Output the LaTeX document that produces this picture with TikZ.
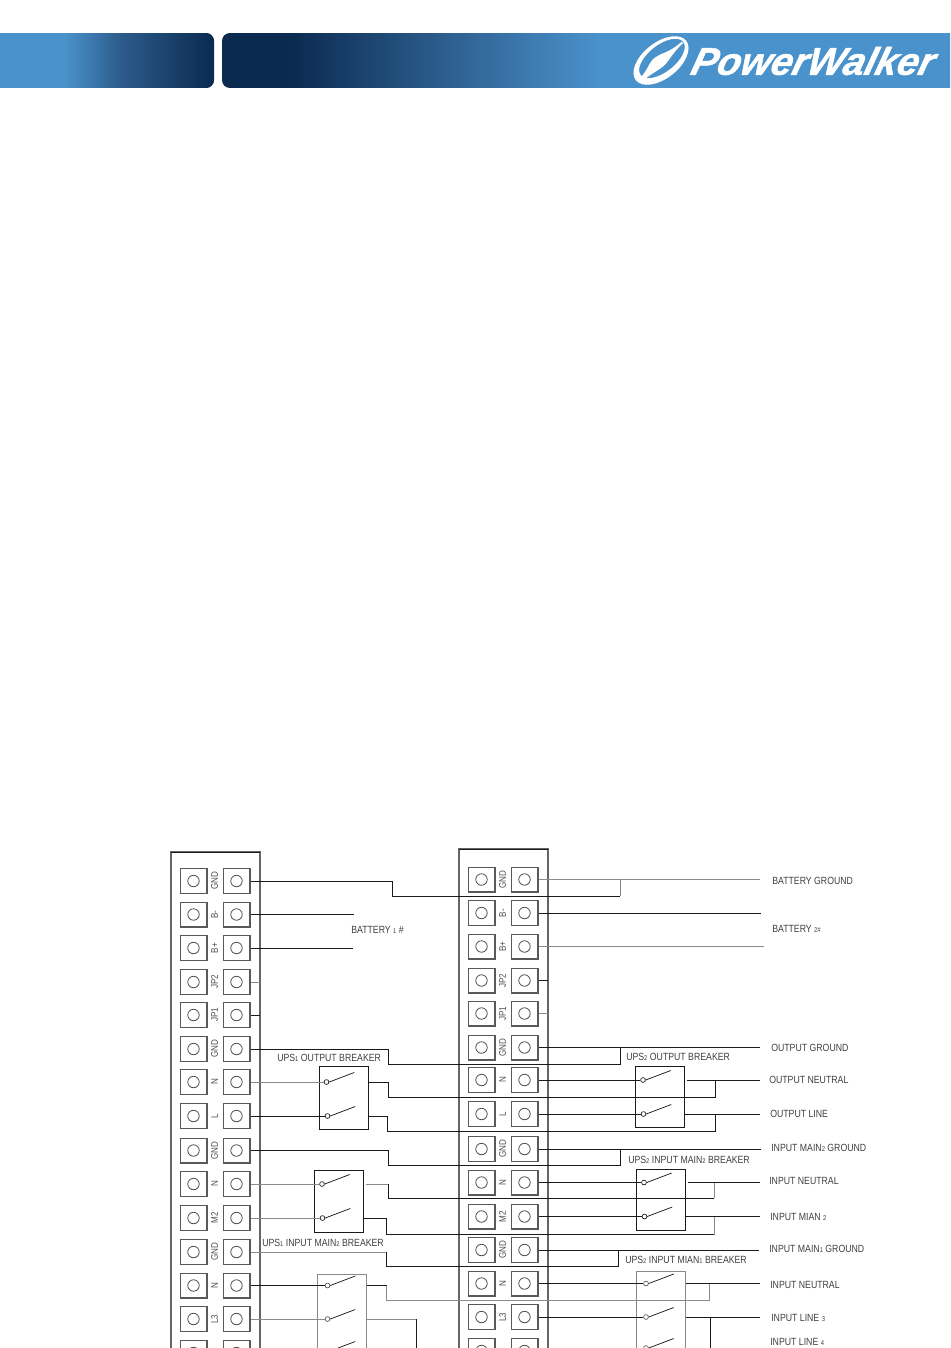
\documentclass[tikz,border=0pt]{standalone}
\usepackage{fontspec}
\setmainfont[FakeStretch=0.84]{Liberation Sans}
\newfontfamily\logofont[FakeBold=1.2,FakeSlant=0.26]{Liberation Sans}
\usetikzlibrary{calc}
\newcommand\sdg[1]{{\fontsize{5.2}{5}\selectfont #1}}
\definecolor{bandblue}{HTML}{4A92CB}
\definecolor{banddark}{HTML}{0A2A50}
\definecolor{bandmid}{HTML}{2C5C8C}
\definecolor{inkgray}{HTML}{8A8A8A}
\definecolor{inkdark}{HTML}{1A1A1A}
\tikzset{
  x=0.75pt,y=-0.75pt,
  wire/.style={draw=inkdark,line width=0.72pt},
  gwire/.style={draw=inkgray,line width=0.72pt},
  strip/.style={draw=black!60,line width=0.85pt},
  termbox/.style={draw=black!65,line width=1pt,minimum width=20pt,minimum height=18.5pt,inner sep=0,fill=white},
  termhole/.style={draw=black!70,line width=0.6pt,circle,minimum size=8.6pt,inner sep=0},
  termtext/.style={rotate=90,font=\fontsize{7.2}{7}\selectfont,text=black!70,inner sep=0},
  breaker/.style={draw=inkdark,line width=0.72pt,minimum width=36.6pt,inner sep=0},
  gbreaker/.style={breaker,draw=inkgray},
  swc/.style={draw=inkdark,line width=0.5pt,circle,minimum size=3.6pt,inner sep=0},
  gswc/.style={swc,draw=black!65},
  lab/.style={anchor=west,inner sep=0,font=\fontsize{7.8}{8}\selectfont,text=black!75},
}
\newcommand\swt[4][swc]{\node[#1] (#2) at (#3,#4) {}; \draw[line width=0.55pt,draw=inkdark] (#2.east) -- ++(25,-9.5);}
% #1,#2 column range, #3,#4 end colours: a band of thin columns
\newcommand\ramp[4]{\foreach \cx in {#1,...,#2}{\pgfmathtruncatemacro\pc{100*(#2-\cx)/(#2-#1)}\fill[#3!\pc!#4] (\cx,33) rectangle (\cx+1.6,88);}}
\begin{document}
\begin{tikzpicture}
\useasboundingbox (0,0) rectangle (950,1348);
\clip (0,0) rectangle (950,1348);
\fill[white] (0,0) rectangle (950,1348);
% header bands
\begin{scope}
  \clip[rounded corners=6pt] (-20,33) rectangle (214,88);
  \fill[bandblue] (-20,33) rectangle (66,88);
  \ramp{65}{120}{bandblue}{bandmid}
  \ramp{120}{214}{bandmid}{banddark}
\end{scope}
\begin{scope}
  \clip[rounded corners=6pt] (222,33) rectangle (980,88);
  \fill[banddark] (222,33) rectangle (290,88);
  \ramp{290}{440}{banddark}{bandmid}
  \ramp{440}{600}{bandmid}{bandblue}
  \fill[bandblue] (600,33) rectangle (980,88);
\end{scope}
% logo
\begin{scope}[shift={(661,60.5)},rotate=38]
  \fill[white,even odd rule] (0,0) ellipse [x radius=32,y radius=18]
     (2,-1) ellipse [x radius=27,y radius=13.5];
  \fill[white] (-29,1) .. controls (-16,0) and (-12,-6) .. (-3,-6) .. controls (5,-6) and (10,-1) .. (28,-2) -- (28,0) .. controls (12,1) and (6,6) .. (-3,6) .. controls (-12,6) and (-16,4) .. (-29,5) -- cycle;
\end{scope}
\node[anchor=west,inner sep=0,text=white,font=\logofont\fontsize{29}{30}\selectfont\bfseries\itshape] (logotext) at (689,61) {PowerWalker};
% terminal strips
\draw[strip] (171,1400) -- (171,852) -- (260,852) -- (260,1400);
\draw[strip] (459,1400) -- (459,849) -- (548,849) -- (548,1400);
\draw[wire] (171,852) -- (260,852);
\draw[wire] (459,849) -- (548,849);
\foreach \i/\yl/\yr/\t in {1/881/879.5/GND,2/914.5/913/B-,3/948/946.5/B+,4/982/980.5/JP2,5/1015/1013.5/JP1,6/1049/1047.5/GND,7/1082/1080/N,8/1116/1114/L,9/1150.5/1149/GND,10/1184/1182.5/N,11/1218/1216.5/M2,12/1252/1250/GND,13/1285.5/1283.5/N,14/1319/1317/L3,15/1353/1351/}{
  \node[termbox] (La\i) at (193.5,\yl) {};
  \node[termbox] (Lb\i) at (236.5,\yl) {};
  \node[termbox] (Ra\i) at (481.5,\yr) {};
  \node[termbox] (Rb\i) at (524.5,\yr) {};
  \node[termhole] (Lah\i) at (La\i) {};
  \node[termhole] (Lbh\i) at (Lb\i) {};
  \node[termhole] (Rah\i) at (Ra\i) {};
  \node[termhole] (Rbh\i) at (Rb\i) {};
  \node[termtext] (Lt\i) at (214.5,\yl) {\t};
  \node[termtext] (Rt\i) at (502.5,\yr) {\t};
}
% breakers
\node[breaker,minimum height=46.6pt] (br1) at (343.7,1098) {};
\node[breaker,minimum height=46pt] (br2) at (659.7,1096.7) {};
\node[breaker,minimum height=46.5pt] (br3) at (338.7,1201.5) {};
\node[breaker,minimum height=45.8pt] (br4) at (661,1200) {};
\node[gbreaker,minimum height=92pt,anchor=north] (br5) at (342,1273.5) {};
\node[gbreaker,minimum height=92pt,anchor=north] (br6) at (661,1270.5) {};
% switches
\swt{s1a}{326.5}{1082}
\swt{s1b}{327.5}{1116}
\swt{s2a}{643}{1080}
\swt{s2b}{643.5}{1114}
\swt{s3a}{322}{1184}
\swt{s3b}{322.5}{1218}
\swt{s4a}{644}{1182.5}
\swt{s4b}{644.5}{1216.5}
\swt[gswc]{s5a}{327.5}{1285.5}
\swt[gswc]{s5b}{327.5}{1319}
\swt[gswc]{s5c}{327.5}{1351}
\swt[gswc]{s6a}{646}{1283.5}
\swt[gswc]{s6b}{646}{1317}
\swt[gswc]{s6c}{646}{1348}
% free wire ends
\coordinate (e1) at (354,914.5);
\coordinate (e2) at (353,948);
\coordinate (e3) at (760,879.5);
\coordinate (e4) at (761,913);
\coordinate (e5) at (764,946.5);
\coordinate (e6) at (760,1047.5);
\coordinate (e7) at (760,1080);
\coordinate (e8) at (760,1114);
\coordinate (e9) at (761,1149);
\coordinate (e10) at (760,1182.5);
\coordinate (e11) at (760,1216.5);
\coordinate (e12) at (759,1250);
\coordinate (e13) at (760,1283.5);
\coordinate (e14) at (760,1317);
\coordinate (jg1) at (620,879.5);
\coordinate (jg2) at (620,1047.5);
\coordinate (jg3) at (620,1149);
\coordinate (jg4) at (618.5,1250);
\coordinate (jn1) at (715,1080);
\coordinate (jl1) at (715,1114);
\coordinate (jn2) at (714,1182.5);
\coordinate (jl2) at (714,1216.5);
\coordinate (jn3) at (709.5,1283.5);
\coordinate (jl3) at (710.5,1317);
\coordinate (dnl) at (416,1360);
\coordinate (dnr) at (710.5,1360);
% left side wires
\draw[wire] (Lb1.east) -- (392,881) -- (392,896) -- (620,896);
\draw[gwire] (620,896) -- (jg1);
\draw[wire] (Lb2.east) -- (e1);
\draw[wire] (Lb3.east) -- (e2);
\draw[gwire] (Lb4.east) -- (260,982);
\draw[wire] (Lb5.east) -- (260,1015);
\draw[wire] (Lb6.east) -- (388,1049) -- (388,1064) -- (620,1064) -- (jg2);
\draw[gwire] (Lb7.east) -- (s1a.west);
\draw[wire] (Lb8.east) -- (s1b.west);
\draw[wire] (br1.east |- s1a) -- (388,1082) -- (388,1097) -- (715,1097) -- (jn1);
\draw[wire] (br1.east |- s1b) -- (387.5,1116) -- (387.5,1131) -- (715,1131) -- (jl1);
\draw[wire] (Lb9.east) -- (388,1150.5) -- (388,1165) -- (620,1165) -- (jg3);
\draw[gwire] (Lb10.east) -- (s3a.west);
\draw[gwire] (Lb11.east) -- (s3b.west);
\draw[gwire] ($(br3.east |- s3a)+(2,0)$) -- (388,1184);
\draw[wire] (388,1184) -- (388,1198) -- (714,1198);
\draw[gwire] (714,1198) -- (jn2);
\draw[wire] (br3.east |- Lb11) -- (386.5,1218) -- (386.5,1234.5) -- (714,1234.5);
\draw[gwire] (714,1234.5) -- (jl2);
\draw[gwire] (Lb12.east) -- (386.5,1252);
\draw[wire] (386.5,1252) -- (386.5,1266) -- (618.5,1266) -- (jg4);
\draw[wire] (Lb13.east) -- (s5a.west);
\draw[wire] (br5.east |- s5a) -- (386.5,1285.5);
\draw[gwire] (386.5,1285.5) -- (386.5,1300) -- (709.5,1300) -- (jn3);
\draw[gwire] (Lb14.east) -- (s5b.west);
\draw[gwire] (br5.east |- s5b) -- (416,1319);
\draw[wire] (416,1319) -- (dnl);
% right side wires
\draw[gwire] (Rb1.east) -- (e3);
\draw[wire] (Rb2.east) -- (e4);
\draw[gwire] (Rb3.east) -- (e5);
\draw[wire] (Rb4.east) -- (548,980.5);
\draw[gwire] (Rb5.east) -- (548,1013.5);
\draw[wire] (Rb6.east) -- (e6);
\draw[wire] (Rb7.east) -- (s2a.west);
\draw[wire] (687,1080) -- (e7);
\draw[wire] (Rb8.east) -- (s2b.west);
\draw[wire] (br2.east |- s2b) -- (e8);
\draw[wire] (Rb9.east) -- (e9);
\draw[wire] (Rb10.east) -- (s4a.west);
\draw[wire] (687.5,1182.5) -- (e10);
\draw[wire] (Rb11.east) -- (s4b.west);
\draw[wire] (br4.east |- s4b) -- (e11);
\draw[wire] (Rb12.east) -- (e12);
\draw[wire] (Rb13.east) -- (s6a.west);
\draw[wire] (br6.east |- s6a) -- (e13);
\draw[wire] (Rb14.east) -- (s6b.west);
\draw[wire] (br6.east |- s6b) -- (e14);
\draw[wire] (jl3) -- (dnr);
% labels
\node[lab] (t1) at (351,930) {BATTERY \sdg{1} \#};
\node[lab] (t2) at (277,1057.5) {UPS\sdg{1} OUTPUT BREAKER};
\node[lab] (t3) at (262,1243) {UPS\sdg{1} INPUT MAIN\sdg{2} BREAKER};
\node[lab] (t4) at (772,881) {BATTERY GROUND};
\node[lab] (t5) at (772,929) {BATTERY \sdg{2\#}};
\node[lab] (t6) at (771,1047.5) {OUTPUT GROUND};
\node[lab] (t7) at (626,1056.5) {UPS\sdg{2} OUTPUT BREAKER};
\node[lab] (t8) at (769,1079.5) {OUTPUT NEUTRAL};
\node[lab] (t9) at (770,1114) {OUTPUT LINE};
\node[lab] (t10) at (771,1148) {INPUT MAIN\sdg{2} GROUND};
\node[lab] (t11) at (628,1160) {UPS\sdg{2} INPUT MAIN\sdg{2} BREAKER};
\node[lab] (t12) at (769,1181) {INPUT NEUTRAL};
\node[lab] (t13) at (770,1217) {INPUT MIAN \sdg{2}};
\node[lab] (t14) at (769,1248.5) {INPUT MAIN\sdg{1} GROUND};
\node[lab] (t15) at (625,1259.5) {UPS\sdg{2} INPUT MIAN\sdg{1} BREAKER};
\node[lab] (t16) at (770,1284.5) {INPUT NEUTRAL};
\node[lab] (t17) at (771,1318) {INPUT LINE \sdg{3}};
\node[lab] (t18) at (770,1342) {INPUT LINE \sdg{4}};
\end{tikzpicture}
\end{document}
